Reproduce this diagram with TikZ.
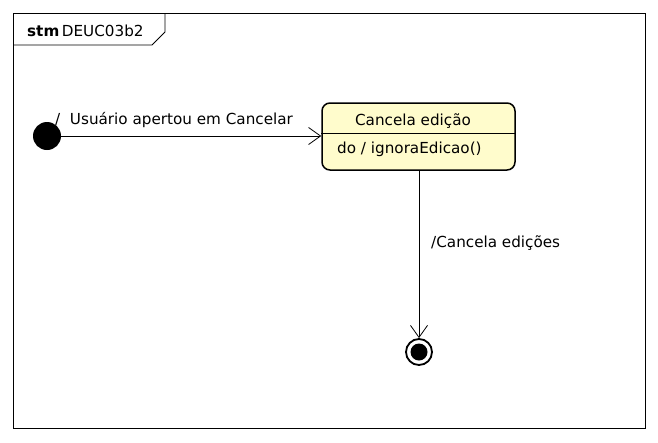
\documentclass[tikz,border=0pt]{standalone}
\usepackage{fontspec}
\setmainfont{DejaVu Sans}
\usepackage{tikz}
\usetikzlibrary{arrows.meta}
\tikzset{
  umltext/.style={font=\fontsize{15.2}{17}\selectfont, inner sep=0pt, anchor=base west},
  statebox/.style={draw, line width=1.5pt, rounded corners=8pt, fill=yellow!20!white, minimum width=193pt, minimum height=67pt},
  trans/.style={line width=0.8pt, -{Straight Barb[length=12pt,width=17pt]}}
}
\begin{document}
\begin{tikzpicture}[x=1pt, y=-1pt]
\useasboundingbox (0,0) rectangle (658,442);
\draw[line width=0.8pt] (13,13) rectangle (645,428);
\draw[line width=0.8pt] (165,13) -- (165,32) -- (152,45) -- (13,45);
\node[umltext] (title) at (27,36) {\textbf{stm}\,DEUC03b2};
\node[circle, fill=black, minimum size=28pt, inner sep=0pt] (start) at (47,136) {};
\node[statebox] (cancela) at (418.5,136.5) {};
\draw[line width=0.8pt] (cancela.west |- 0,133) -- (cancela.east |- 0,133);
\node[umltext, anchor=base] (cancelaname) at (413,125) {Cancela edição};
\node[umltext] (cancelado) at (337,153) {do / ignoraEdicao()};
\node[circle, draw, line width=1.8pt, minimum size=26pt, inner sep=0pt] (final) at (419,352) {};
\node[circle, fill=black, minimum size=17pt, inner sep=0pt] (finaldot) at (final) {};
\draw[trans] (start) -- (cancela.west |- start);
\node[umltext] (lblstart) at (55,124) {/\ \ Usuário apertou em Cancelar};
\draw[trans] (cancela.south -| final) -- (final.north);
\node[umltext] (lblfinal) at (431,247) {/Cancela edições};
\end{tikzpicture}
\end{document}
